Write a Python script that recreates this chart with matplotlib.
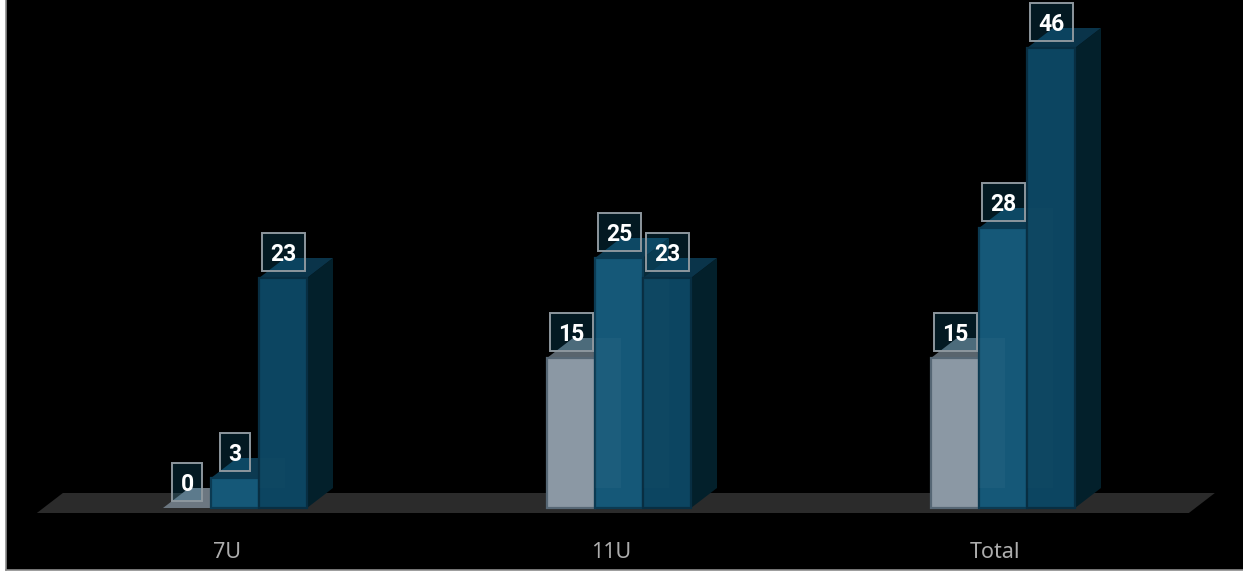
import matplotlib
matplotlib.use("Agg")
import matplotlib.pyplot as plt
from matplotlib.patches import Rectangle

# ======================================================
# Data
# ======================================================

categories = ["7U", "11U", "Total"]
series_grey = [0, 15, 15]
series_mid = [3, 25, 28]
series_dark = [23, 23, 46]

# ======================================================
# Setup
# ======================================================

W, H = 1243, 571
PX_X = 384.0  # pixels per category
PX_Y = 10.0  # pixels per value unit
BAR_W = 48 / PX_X
DEPTH_X = 26 / PX_X
DEPTH_Y = 20 / PX_Y

STYLES = [
    {"front": "#8b98a4", "top": "#59646d", "side": "#3c444b", "edge": "#566775"},
    {"front": "#155878", "top": "#0c3a51", "side": "#072a39", "edge": "#0b3a52"},
    {"front": "#0c4561", "top": "#0a344a", "side": "#03202b", "edge": "#082e42"},
]
GHOST_ALPHA = [0.03, 0.012]
GREY_ZERO_TOP = "#6c7781"

fig = plt.figure(figsize=(W / 100, H / 100), dpi=100, facecolor="white")
ax = fig.add_axes([6 / W, 1 / H, (W - 6) / W, (H - 1) / H], facecolor="black")
ax.set_xlim((6 - 235) / PX_X, (W - 235) / PX_X)
ax.set_ylim(-6.2, 50.8)
ax.set_xticks([])
ax.set_yticks([])
for side in ["top", "right"]:
    ax.spines[side].set_visible(False)
for side in ["left", "bottom"]:
    ax.spines[side].set_color("#8c8c8c")
    ax.spines[side].set_linewidth(1.2)

# floor
floor_left = -0.516
floor_right = 2.484
ax.fill(
    [floor_left, floor_right, floor_right + DEPTH_X, floor_left + DEPTH_X],
    [-0.5, -0.5, 1.5, 1.5],
    color="#2b2b2b",
    lw=0,
    zorder=1,
)

# ======================================================
# Bars
# ======================================================

all_series = [series_grey, series_mid, series_dark]
offsets = [-BAR_W, 0, BAR_W]

for s, (values, off) in enumerate(zip(all_series, offsets)):
    st = STYLES[s]
    z = 2 + s * 2
    for i, v in enumerate(values):
        x0 = i + off - BAR_W / 2
        x1 = x0 + BAR_W
        # side face
        ax.fill(
            [x1, x1 + DEPTH_X, x1 + DEPTH_X, x1],
            [0, DEPTH_Y, v + DEPTH_Y, v],
            color=st["side"],
            lw=0,
            zorder=z,
        )
        # top face
        top_color = GREY_ZERO_TOP if v == 0 else st["top"]
        ax.fill(
            [x0, x1, x1 + DEPTH_X, x0 + DEPTH_X],
            [v, v, v + DEPTH_Y, v + DEPTH_Y],
            color=top_color,
            lw=0,
            zorder=z,
        )
        # front face
        if v > 0:
            ax.bar(
                i + off,
                v,
                width=BAR_W,
                color=st["front"],
                edgecolor=st["edge"],
                linewidth=1.6,
                zorder=z + 0.5,
            )
        # back wall showing through the next bar, only over that bar
        if s < 2:
            next_v = all_series[s + 1][i]
            ax.add_patch(
                Rectangle(
                    (x1, DEPTH_Y),
                    DEPTH_X,
                    min(v, next_v - DEPTH_Y),
                    facecolor="white",
                    alpha=GHOST_ALPHA[s],
                    lw=0,
                    zorder=9,
                )
            )

# ======================================================
# Value labels
# ======================================================

for values, off in zip(all_series, offsets):
    for i, v in enumerate(values):
        label = str(v)
        box_w = (43 if len(label) > 1 else 30) / PX_X
        box_h = 38 / PX_Y
        box_y = v + 0.7
        ax.add_patch(
            Rectangle(
                (i + off - box_w / 2, box_y),
                box_w,
                box_h,
                facecolor=(0.08, 0.55, 0.75, 0.18),
                edgecolor="#8d979e",
                linewidth=1.4,
                zorder=12,
            )
        )
        ax.text(
            i + off,
            box_y + box_h / 2,
            label,
            color="white",
            fontsize=16.5,
            fontweight="bold",
            family="Roboto",
            ha="center",
            va="center_baseline",
            zorder=13,
        )

# category labels
for i, name in enumerate(categories):
    ax.text(
        i - 0.02,
        -4.4,
        name,
        color="#adadad",
        fontsize=15.5,
        family="Noto Sans",
        ha="center",
        va="center",
        zorder=13,
    )

fig.savefig("out.png", dpi=100, facecolor="white")
